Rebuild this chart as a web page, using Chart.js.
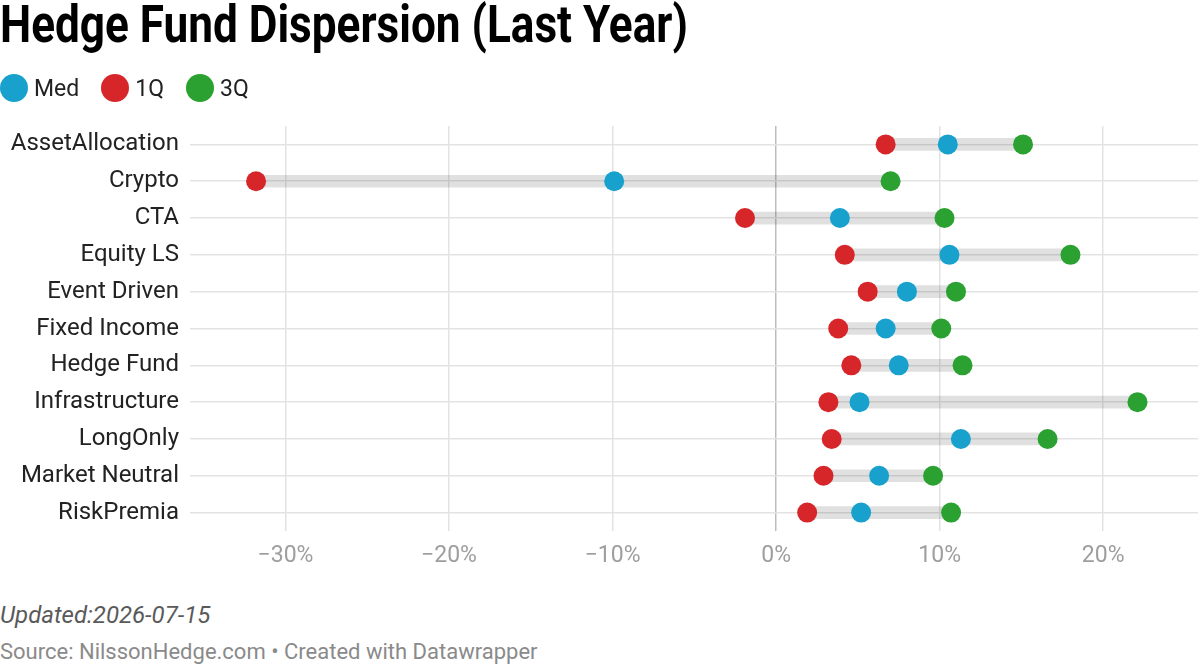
<!DOCTYPE html>
<html lang="en">
<head>
    <meta charset="UTF-8">
    <title>Hedge Fund Dispersion (Last Year)</title>
    <script src="https://cdn.jsdelivr.net/npm/chart.js"></script>
    <style>
        body {
            margin: 0;
            width: 1200px;
            height: 666px;
            background: #fff;
            font-family: Roboto, Arial, sans-serif;
            position: relative;
            overflow: hidden;
        }
        h1 {
            position: absolute;
            left: 0;
            top: -5px;
            margin: 0;
            font-size: 51px;
            line-height: 60px;
            font-weight: 700;
            color: #000;
            white-space: nowrap;
            transform: scaleX(0.865);
            transform-origin: left top;
        }
        #legend {
            position: absolute;
            left: 0;
            top: 74px;
            display: flex;
            align-items: center;
            font-size: 23px;
            color: #222;
        }
        .item { display: flex; align-items: center; margin-right: 22px; }
        .dot { width: 28px; height: 28px; border-radius: 50%; margin-right: 6px; }
        #chartBox {
            position: absolute;
            left: 0;
            top: 0;
            width: 1200px;
            height: 581px;
        }
        .note {
            position: absolute;
            left: 0;
            white-space: nowrap;
        }
        #updated { top: 601px; font-size: 24px; line-height: 28px; font-style: italic; color: #5a5a5a; }
        #source { top: 639px; font-size: 22px; line-height: 26px; color: #8a8a8a; }
    </style>
</head>
<body>
<div id="chartBox"><canvas id="chart"></canvas></div>
<h1>Hedge Fund Dispersion (Last Year)</h1>
<div id="legend"></div>
<div class="note" id="updated">Updated:2026-07-15</div>
<div class="note" id="source">Source: NilssonHedge.com • Created with Datawrapper</div>

<script>
    // categories (top to bottom)
    const categories = ['AssetAllocation', 'Crypto', 'CTA', 'Equity LS', 'Event Driven',
        'Fixed Income', 'Hedge Fund', 'Infrastructure', 'LongOnly', 'Market Neutral', 'RiskPremia'];

    // values in %
    const med = [10.5, -9.9, 3.9, 10.6, 8.0, 6.7, 7.5, 5.1, 11.3, 6.3, 5.2];
    const q1  = [6.7, -31.8, -1.9, 4.2, 5.6, 3.8, 4.6, 3.2, 3.4, 2.9, 1.9];
    const q3  = [15.1, 7.0, 10.3, 18.0, 11.0, 10.1, 11.4, 22.1, 16.6, 9.6, 10.7];

    const xTicks = [-30, -20, -10, 0, 10, 20];

    const colors = { med: '#18a1cd', q1: '#d7262a', q3: '#2aa130' };

    // legend
    const legendItems = [['Med', colors.med], ['1Q', colors.q1], ['3Q', colors.q3]];
    document.getElementById('legend').innerHTML = legendItems.map(([name, c]) =>
        `<span class="item"><span class="dot" style="background:${c}"></span>${name}</span>`).join('');

    // range bar from lowest to highest value per row
    const ranges = categories.map((_, i) => {
        const v = [med[i], q1[i], q3[i]];
        return [Math.min(...v), Math.max(...v)];
    });

    function dots(label, data, color, order) {
        return {
            type: 'line',
            label: label,
            data: data,
            indexAxis: 'y',
            showLine: false,
            pointRadius: 10,
            pointHoverRadius: 10,
            pointBorderWidth: 0,
            pointBackgroundColor: color,
            borderColor: color,
            order: order
        };
    }

    Chart.defaults.font.family = 'Roboto, Arial, sans-serif';

    new Chart(document.getElementById('chart'), {
        type: 'bar',
        data: {
            labels: categories,
            datasets: [
                {
                    label: 'range',
                    data: ranges,
                    backgroundColor: 'rgba(0,0,0,0.12)',
                    barThickness: 12,
                    borderSkipped: false,
                    order: 10
                },
                dots('Med', med, colors.med, 1),
                dots('1Q', q1, colors.q1, 2),
                dots('3Q', q3, colors.q3, 3)
            ]
        },
        options: {
            indexAxis: 'y',
            responsive: true,
            maintainAspectRatio: false,
            animation: false,
            layout: { autoPadding: false, padding: { top: 126, right: 2, left: 0, bottom: 0 } },
            plugins: {
                legend: { display: false },
                tooltip: { enabled: false }
            },
            scales: {
                x: {
                    type: 'linear',
                    min: -35.84,
                    max: 25.8,
                    afterBuildTicks: (scale) => { scale.ticks = xTicks.map(v => ({ value: v })); },
                    afterFit: (scale) => {
                        scale.height = 50;
                        scale.paddingLeft = 0;
                        scale.paddingRight = 0;
                    },
                    border: { display: false },
                    grid: {
                        drawTicks: false,
                        lineWidth: 1.5,
                        color: (ctx) => ctx.tick && ctx.tick.value === 0 ? '#bdbdbd' : '#e3e3e3'
                    },
                    ticks: {
                        padding: 11,
                        color: '#9e9e9e',
                        font: { size: 23 },
                        callback: (v) => (v < 0 ? '\u2212' + Math.abs(v) : v) + '%'
                    }
                },
                y: {
                    type: 'category',
                    offset: true,
                    afterFit: (scale) => {
                        scale.width = 190;
                        scale.paddingTop = 0;
                        scale.paddingBottom = 0;
                    },
                    border: { display: false },
                    grid: {
                        offset: false,
                        drawTicks: false,
                        lineWidth: 1.5,
                        color: '#e3e3e3'
                    },
                    ticks: {
                        padding: 11,
                        color: '#222',
                        font: { size: 24 }
                    }
                }
            }
        }
    });
</script>
</body>
</html>
